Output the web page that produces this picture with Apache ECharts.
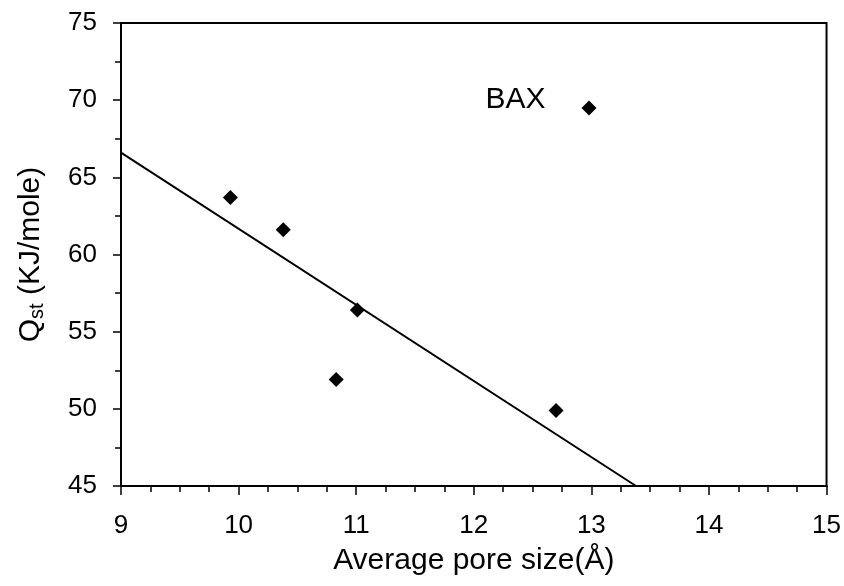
<!DOCTYPE html>
<html>
<head>
<meta charset="utf-8">
<script src="https://cdn.jsdelivr.net/npm/echarts@6/dist/echarts.min.js"></script>
<style>html,body{margin:0;padding:0;background:#fff}#c{width:844px;height:586px}</style>
</head>
<body>
<div id="c"></div>
<script>
// Data
const poreSize = [9.93, 10.38, 10.83, 11.01, 12.70];
const qst = [63.7, 61.6, 51.9, 56.4, 49.9];
const baxPoint = [12.98, 69.5];
const baxLabel = 'BAX';
const fitX = [9.0, 13.38];
const fitY = [66.6, 45.0];
const xTicks = [9, 10, 11, 12, 13, 14, 15];
const yTicks = [45, 50, 55, 60, 65, 70, 75];

const FONT = '"Liberation Sans", Arial, sans-serif';
const chart = echarts.init(document.getElementById('c'), null, {renderer: 'canvas'});

const scatterData = poreSize.map((x, i) => [x, qst[i]]);
const fitData = fitX.map((x, i) => [x, fitY[i]]);

chart.setOption({
  backgroundColor: '#fff',
  animation: false,
  grid: {left: 121, right: 17, top: 23, bottom: 100, show: true, borderColor: '#000', borderWidth: 2, containLabel: false},
  xAxis: {
    type: 'value', min: xTicks[0], max: xTicks[xTicks.length - 1], interval: 1,
    axisLine: {show: true, onZero: false, lineStyle: {color: '#000', width: 2}},
    axisTick: {show: true, inside: false, length: 9, lineStyle: {color: '#000', width: 1.5}},
    minorTick: {show: true, splitNumber: 4, length: 6, lineStyle: {color: '#000', width: 1.5}},
    splitLine: {show: false},
    axisLabel: {color: '#000', fontFamily: FONT, fontSize: 26, margin: 27},
    name: 'Average pore size(Å)', nameLocation: 'middle', nameGap: 60,
    nameTextStyle: {color: '#000', fontFamily: FONT, fontSize: 30}
  },
  yAxis: {
    type: 'value', min: yTicks[0], max: yTicks[yTicks.length - 1], interval: 5,
    axisLine: {show: true, onZero: false, lineStyle: {color: '#000', width: 2}},
    axisTick: {show: true, inside: false, length: 8, lineStyle: {color: '#000', width: 1.5}},
    minorTick: {show: true, splitNumber: 2, length: 6, lineStyle: {color: '#000', width: 1.5}},
    splitLine: {show: false},
    axisLabel: {color: '#000', fontFamily: FONT, fontSize: 26, margin: 24},
    name: '{q|Q}{sub|st}{q| (KJ/mole)}', nameLocation: 'middle', nameGap: 74, nameRotate: 90,
    nameTextStyle: {
      color: '#000', fontFamily: FONT, fontSize: 30,
      rich: {
        q: {fontFamily: FONT, fontSize: 30, color: '#000'},
        sub: {fontFamily: FONT, fontSize: 20, color: '#000', padding: [12, 0, 0, 0]}
      }
    }
  },
  series: [
    {
      type: 'line', data: fitData, symbol: 'none', silent: true,
      lineStyle: {color: '#000', width: 2}, z: 2
    },
    {
      type: 'scatter', data: scatterData, symbol: 'diamond', symbolSize: 15,
      itemStyle: {color: '#000', opacity: 1}, z: 3
    },
    {
      type: 'scatter', data: [{value: baxPoint, name: baxLabel}], symbol: 'diamond', symbolSize: 15,
      itemStyle: {color: '#000', opacity: 1}, z: 3,
      label: {show: true, position: 'left', distance: 36, offset: [0, -8], formatter: '{b}',
              color: '#000', fontFamily: FONT, fontSize: 30}
    }
  ]
});
</script>
</body>
</html>
